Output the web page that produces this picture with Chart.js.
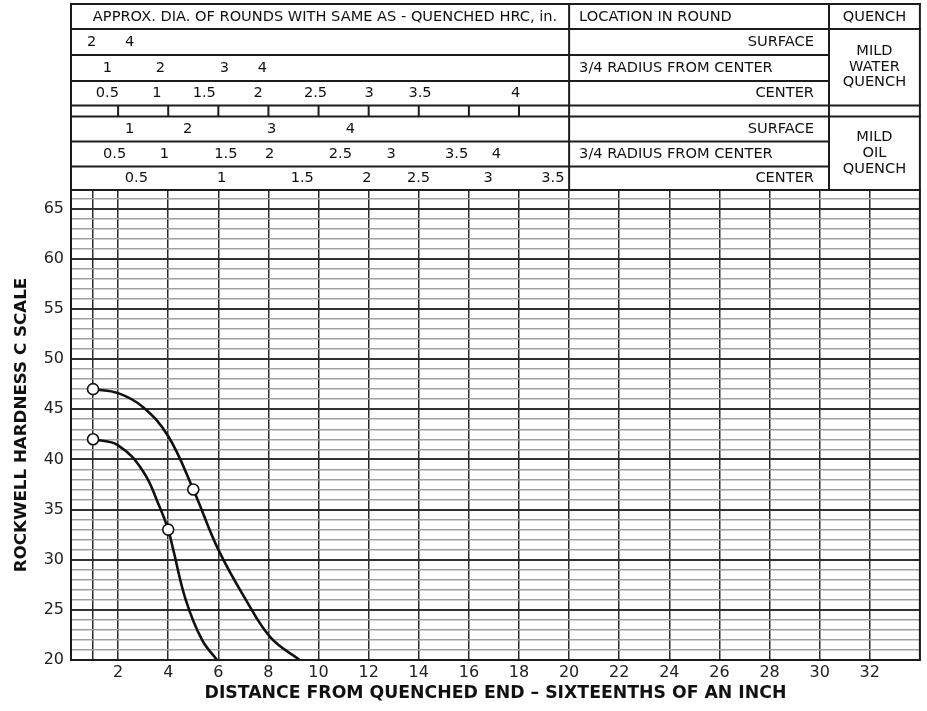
<!DOCTYPE html>
<html><head><meta charset="utf-8">
<script src="https://cdn.jsdelivr.net/npm/chart.js@4"></script>
<style>html,body{margin:0;padding:0;background:#fff}canvas{display:block}</style>
</head><body>
<canvas id="c" width="927" height="711"></canvas>
<script>
// ---- data ----
const upperX = [1, 2, 3, 4, 5, 6, 7.1, 8.1, 9.25];
const upperY = [47, 46.6, 45.2, 42.3, 37, 31, 26, 22.2, 20];
const lowerX = [1, 2, 3, 3.65, 4, 4.2, 4.7, 5.35, 5.95];
const lowerY = [42, 41.4, 38.8, 35.3, 33, 31, 26, 22, 20];
const markX = [1, 5, 1, 4];
const markY = [47, 37, 42, 33];

const xGridValues = [1, 2, 4, 6, 8, 10, 12, 14, 16, 18, 20, 22, 24, 26, 28, 30, 32];
const xLabelValues = [2, 4, 6, 8, 10, 12, 14, 16, 18, 20, 22, 24, 26, 28, 30, 32];
const yLabelValues = [20, 25, 30, 35, 40, 45, 50, 55, 60, 65];
const X_MIN = 0.12, X_MAX = 34, Y_MIN = 20, Y_MAX = 66.85;

// header table: diameter labels and the Jominy distance they sit over
const waterSurfaceLabels = ['2', '4'];
const waterSurfacePos = [0.94, 2.46];
const waterThreeQLabels = ['1', '2', '3', '4'];
const waterThreeQPos = [1.57, 3.69, 6.24, 7.76];
const waterCenterLabels = ['0.5', '1', '1.5', '2', '2.5', '3', '3.5', '4'];
const waterCenterPos = [1.57, 3.55, 5.44, 7.59, 9.88, 12.02, 14.05, 17.87];
const oilSurfaceLabels = ['1', '2', '3', '4'];
const oilSurfacePos = [2.46, 4.78, 8.13, 11.27];
const oilThreeQLabels = ['0.5', '1', '1.5', '2', '2.5', '3', '3.5', '4'];
const oilThreeQPos = [1.86, 3.85, 6.30, 8.05, 10.87, 12.9, 15.51, 17.1];
const oilCenterLabels = ['0.5', '1', '1.5', '2', '2.5', '3', '3.5'];
const oilCenterPos = [2.73, 6.13, 9.35, 11.93, 13.99, 16.77, 19.35];
const dividerPos = [2, 4, 6, 8, 10, 12, 14, 16, 18];

const FONT = '"DejaVu Sans", Verdana, sans-serif';
const INK = '#1c1c1c';

const tablePlugin = {
  id: 'headerTable',
  afterDraw(chart) {
    const ctx = chart.ctx, xs = chart.scales.x, a = chart.chartArea;
    const L = a.left, R = a.right, T = 4;
    const c1 = xs.getPixelForValue(20);
    const c2 = 829;
    ctx.save();
    ctx.strokeStyle = INK;
    ctx.lineWidth = 2;
    const line = (x1, y1, x2, y2) => { ctx.beginPath(); ctx.moveTo(x1, y1); ctx.lineTo(x2, y2); ctx.stroke(); };
    // plot frame
    ctx.strokeRect(L, a.top, R - L, a.bottom - a.top);
    // table horizontal rules
    [T, 29, 105.5, 116.5, a.top].forEach(y => line(L - 1, y, R + 1, y));
    [55, 81, 141.5, 166.5].forEach(y => line(L, y, c2, y));
    // verticals
    line(L, T - 1, L, a.top);
    line(R, T - 1, R, a.top);
    line(c1, T, c1, a.top);
    line(c2, T, c2, a.top);
    dividerPos.forEach(v => { const x = xs.getPixelForValue(v); line(x, 105.5, x, 116.5); });

    ctx.fillStyle = '#111';
    ctx.font = '14.6px ' + FONT;
    ctx.textBaseline = 'middle';
    ctx.textAlign = 'center';
    ctx.fillText('APPROX. DIA. OF ROUNDS WITH SAME AS - QUENCHED HRC, in.', (L + c1) / 2 + 5, 17);
    const rowText = (labels, pos, y) => labels.forEach((t, i) => ctx.fillText(t, xs.getPixelForValue(pos[i]), y));
    rowText(waterSurfaceLabels, waterSurfacePos, 42);
    rowText(waterThreeQLabels, waterThreeQPos, 68);
    rowText(waterCenterLabels, waterCenterPos, 93);
    rowText(oilSurfaceLabels, oilSurfacePos, 129);
    rowText(oilThreeQLabels, oilThreeQPos, 154);
    rowText(oilCenterLabels, oilCenterPos, 178.5);

    ctx.fillText('QUENCH', (c2 + R) / 2, 17);
    ['MILD', 'WATER', 'QUENCH'].forEach((t, i) => ctx.fillText(t, (c2 + R) / 2, 51.5 + i * 15.5));
    ['MILD', 'OIL', 'QUENCH'].forEach((t, i) => ctx.fillText(t, (c2 + R) / 2, 137.5 + i * 16));

    ctx.textAlign = 'left';
    ctx.fillText('LOCATION IN ROUND', c1 + 10, 17);
    ctx.fillText('3/4 RADIUS FROM CENTER', c1 + 10, 68);
    ctx.fillText('3/4 RADIUS FROM CENTER', c1 + 10, 154);
    ctx.textAlign = 'right';
    ctx.fillText('SURFACE', c2 - 15, 42);
    ctx.fillText('CENTER', c2 - 15, 93);
    ctx.fillText('SURFACE', c2 - 15, 129);
    ctx.fillText('CENTER', c2 - 15, 178.5);
    ctx.restore();
  }
};

const toPts = (xs, ys) => xs.map((x, i) => ({ x: x, y: ys[i] }));

new Chart(document.getElementById('c'), {
  type: 'scatter',
  data: {
    datasets: [
      { data: toPts(markX, markY), showLine: false, pointRadius: 5.5, pointHoverRadius: 5.5,
        pointBackgroundColor: '#fff', pointBorderColor: '#111', pointBorderWidth: 1.6, order: 0 },
      { data: toPts(upperX, upperY), showLine: true, borderColor: '#111', borderWidth: 2.6,
        pointRadius: 0, tension: 0.4, order: 1 },
      { data: toPts(lowerX, lowerY), showLine: true, borderColor: '#111', borderWidth: 2.6,
        pointRadius: 0, tension: 0.4, order: 1 }
    ]
  },
  options: {
    responsive: false,
    animation: false,
    devicePixelRatio: 1,
    layout: { padding: { top: 190, right: 4, left: 0, bottom: 0 } },
    plugins: { legend: { display: false }, tooltip: { enabled: false } },
    scales: {
      x: {
        type: 'linear', min: X_MIN, max: X_MAX,
        // unlabeled ticks at both ends + 'inner' alignment: no label padding reserved
        afterBuildTicks: s => { s.ticks = xGridValues.concat([X_MAX]).map(v => ({ value: v })); },
        afterFit: s => { s.height = 51; },
        ticks: {
          autoSkip: false, maxRotation: 0, padding: 3, color: '#222', align: 'inner',
          font: { family: FONT, size: 16 },
          callback: v => xLabelValues.includes(v) ? String(v) : ''
        },
        grid: { color: '#2a2a2a', lineWidth: 1.5, drawTicks: false },
        border: { display: true, color: INK, width: 2 },
        title: { display: true, text: 'DISTANCE FROM QUENCHED END – SIXTEENTHS OF AN INCH',
          color: '#111', font: { family: FONT, size: 17.3, weight: 'bold' }, padding: { top: 0, bottom: 7 } }
      },
      y: {
        type: 'linear', min: Y_MIN, max: Y_MAX,
        afterBuildTicks: s => {
          const t = [];
          for (let v = Y_MIN; v <= Math.floor(Y_MAX); v++) t.push({ value: v });
          s.ticks = t;
        },
        afterFit: s => { s.width = 71; },
        ticks: {
          autoSkip: false, padding: 7, color: '#222',
          font: { family: FONT, size: 16 },
          callback: v => yLabelValues.includes(v) ? String(v) : ''
        },
        grid: {
          drawTicks: false,
          color: c => (c.tick && c.tick.value % 5 === 0) ? '#333' : '#a0a0a0',
          lineWidth: c => (c.tick && c.tick.value % 5 === 0) ? 2 : 1.5
        },
        border: { display: true, color: INK, width: 2 },
        title: { display: true, text: 'ROCKWELL HARDNESS C SCALE',
          color: '#111', font: { family: FONT, size: 16.7, weight: 'bold' }, padding: { top: 12, bottom: 0 } }
      }
    }
  },
  plugins: [tablePlugin]
});
</script>
</body></html>
